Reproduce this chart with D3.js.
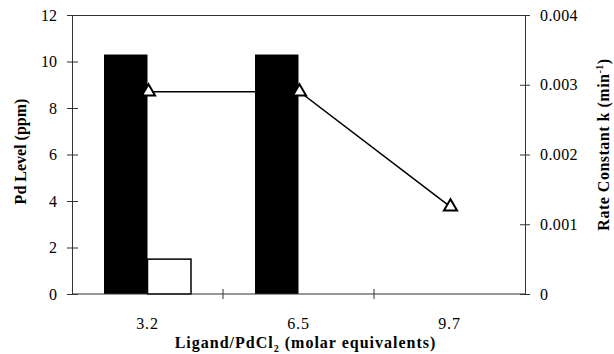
<!DOCTYPE html>
<html>
<head>
<meta charset="utf-8">
<script src="https://cdn.jsdelivr.net/npm/d3@7"></script>
<style>
  html, body { margin: 0; padding: 0; background: #fff; }
  svg { display: block; }
  text { font-family: "Liberation Serif", "Times New Roman", serif; fill: #000; }
</style>
</head>
<body>
<svg id="chart" width="614" height="354"></svg>
<script>
// Ligand equivalents on the x axis
const categories = ["3.2", "6.5", "9.7"];
// Pd level (ppm), left axis: filled and open bars
const pdLevelFilled = [10.3, 10.3, 0];
const pdLevelOpen = [1.5, 0, 0];
// Rate constant k (min^-1), right axis
const rateK = [0.0029, 0.0029, 0.00125];
// Tick values
const leftTicks = [0, 2, 4, 6, 8, 10, 12];
const rightTicks = [0, 0.001, 0.002, 0.003, 0.004];
const seriesKeys = ["filled", "open"];

const svg = d3.select("#chart");
const margin = { left: 72, right: 89, top: 15, bottom: 60 };
const W = 614, H = 354;
const x0 = margin.left, x1 = W - margin.right;
const y0 = H - margin.bottom, y1 = margin.top;

const x = d3.scaleBand().domain(categories).range([x0, x1]).paddingInner(0).paddingOuter(0);
const xs = d3.scaleBand().domain(seriesKeys).range([0, x.bandwidth()]).paddingInner(0).paddingOuter(0.736);
const yL = d3.scaleLinear().domain([0, 12]).range([y0, y1]);
const yR = d3.scaleLinear().domain([0, 0.004]).range([y0, y1]);

const rows = categories.map((c, i) => ({ cat: c, filled: pdLevelFilled[i], open: pdLevelOpen[i], k: rateK[i] }));

// Frame: top edge
svg.append("line").attr("x1", x0).attr("x2", x1).attr("y1", y1 + 0.5).attr("y2", y1 + 0.5)
  .attr("stroke", "#333").attr("stroke-width", 1);

// Bars
const g = svg.append("g");
rows.forEach(r => {
  if (r.filled > 0) {
    g.append("rect")
      .attr("x", x(r.cat) + xs("filled"))
      .attr("y", yL(r.filled))
      .attr("width", xs.bandwidth())
      .attr("height", yL(0) - yL(r.filled))
      .attr("fill", "#000");
  }
  if (r.open > 0) {
    g.append("rect")
      .attr("x", x(r.cat) + xs("open"))
      .attr("y", yL(r.open))
      .attr("width", xs.bandwidth())
      .attr("height", yL(0) - yL(r.open))
      .attr("fill", "#fff").attr("stroke", "#000").attr("stroke-width", 1.5);
  }
});

// Left axis
const axL = svg.append("g").attr("transform", `translate(${x0},0)`)
  .call(d3.axisLeft(yL).tickValues(leftTicks).tickFormat(d3.format("d")).tickSizeInner(5).tickSizeOuter(0).tickPadding(10));
axL.selectAll(".tick line").attr("x2", -5).attr("x1", 6);
// Right axis
const axR = svg.append("g").attr("transform", `translate(${x1},0)`)
  .call(d3.axisRight(yR).tickValues(rightTicks).tickFormat(d => d === 0 ? "0" : d3.format(".3f")(d)).tickSizeInner(5).tickSizeOuter(0).tickPadding(10));
axR.selectAll(".tick line").attr("x1", -5).attr("x2", 5);
// Bottom axis: ticks at category boundaries
const axB = svg.append("g").attr("transform", `translate(0,${y0})`);
axB.append("line").attr("x1", x0).attr("x2", x1).attr("y1", 0).attr("y2", 0).attr("stroke", "#333");
categories.slice(1).forEach(c => {
  axB.append("line").attr("x1", x(c)).attr("x2", x(c)).attr("y1", -5).attr("y2", 5).attr("stroke", "#333");
});
axB.selectAll("text.cat").data(categories).join("text").attr("class", "cat")
  .attr("x", d => x(d) + x.bandwidth() / 2).attr("y", 35)
  .attr("text-anchor", "middle").attr("font-size", 16).attr("letter-spacing", 0.8).text(d => d);

[axL, axR].forEach(a => {
  a.select(".domain").attr("stroke", "#333");
  a.selectAll(".tick line").attr("stroke", "#333");
  a.selectAll("text").attr("font-size", 16).attr("font-family", "Liberation Serif, serif").attr("fill", "#000");
});
axR.selectAll("text").attr("letter-spacing", 0.4);

// Rate constant line with triangle markers
const line = d3.line().x(d => x(d.cat) + x.bandwidth() / 2 + 1).y(d => yR(d.k));
svg.append("path").datum(rows).attr("d", line).attr("fill", "none").attr("stroke", "#000").attr("stroke-width", 1.5);
const tri = d3.symbol().type(d3.symbolTriangle).size(75);
svg.selectAll("path.mk").data(rows).join("path").attr("class", "mk")
  .attr("d", tri)
  .attr("transform", d => `translate(${x(d.cat) + x.bandwidth() / 2 + 1},${yR(d.k)})`)
  .attr("fill", "#fff").attr("stroke", "#000").attr("stroke-width", 2);

// Axis titles
svg.append("text").attr("transform", `translate(26,${(y0 + y1) / 2 - 3}) rotate(-90)`)
  .attr("text-anchor", "middle").attr("font-size", 16).attr("font-weight", "bold").text("Pd Level (ppm)");

const rt = svg.append("text").attr("transform", `translate(609,${(y0 + y1) / 2 - 10}) rotate(-90)`)
  .attr("text-anchor", "middle").attr("font-size", 16).attr("font-weight", "bold").attr("letter-spacing", 0.5);
rt.append("tspan").text("Rate Constant k (min");
rt.append("tspan").attr("dy", -6).attr("font-size", 10).text("-1");
rt.append("tspan").attr("dy", 6).text(")");

const xt = svg.append("text").attr("x", (x0 + x1) / 2 + 7).attr("y", 348)
  .attr("text-anchor", "middle").attr("font-size", 16).attr("font-weight", "bold").attr("letter-spacing", 1);
xt.append("tspan").text("Ligand/PdCl");
xt.append("tspan").attr("dy", 4).attr("font-size", 10).text("2");
xt.append("tspan").attr("dy", -4).text(" (molar equivalents)");
</script>
</body>
</html>
